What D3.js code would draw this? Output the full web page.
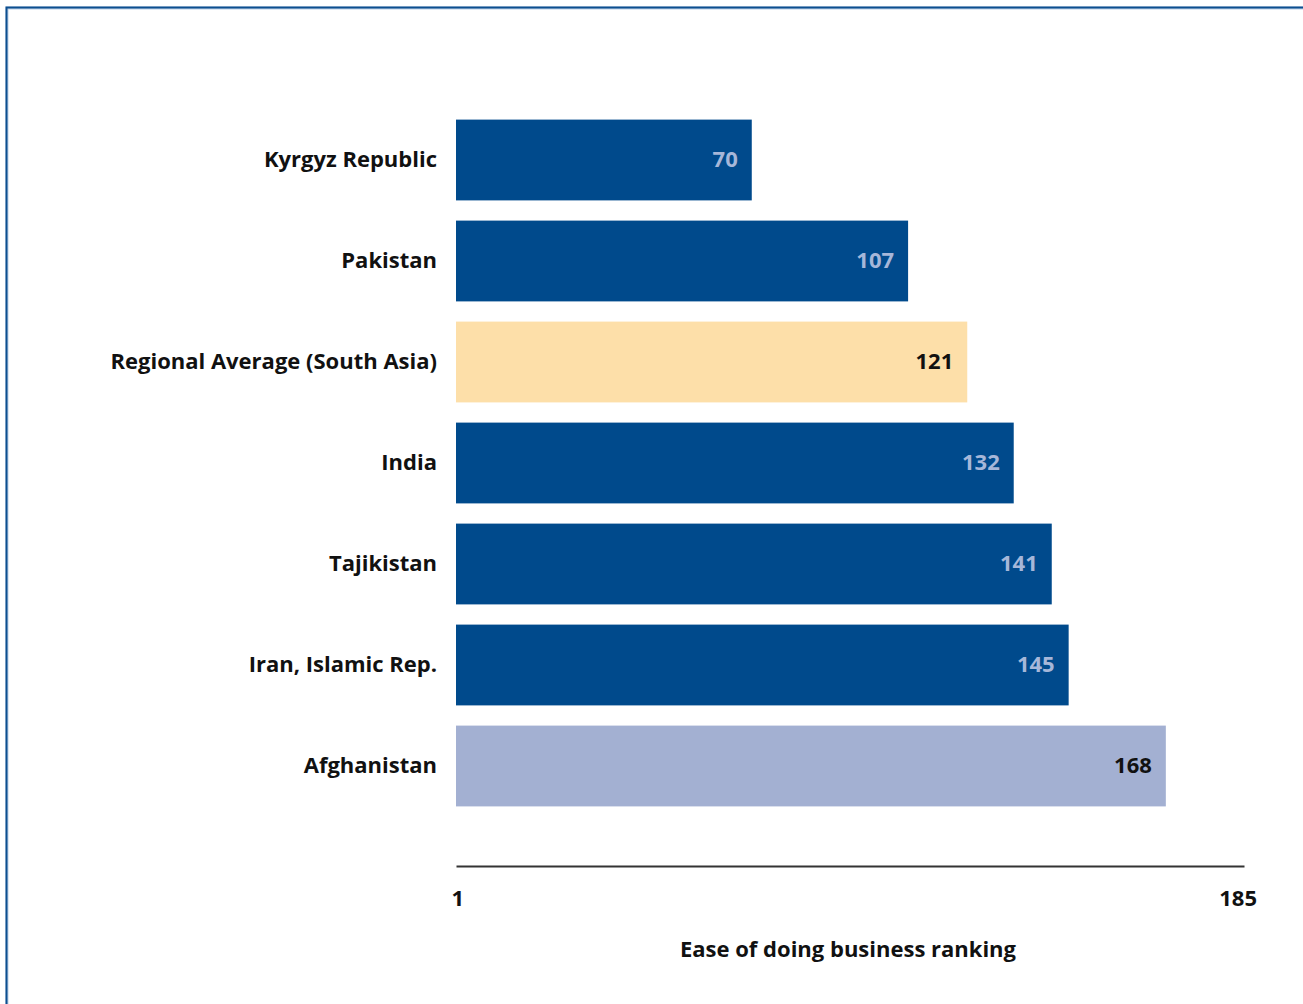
<!DOCTYPE html>
<html>
<head>
<meta charset="utf-8">
<script src="https://cdn.jsdelivr.net/npm/d3@7"></script>
<style>
  html, body { margin: 0; padding: 0; background: #fff; }
  svg { display: block; }
  text { font-family: "Open Sans", "DejaVu Sans", sans-serif; }
</style>
</head>
<body>
<svg id="chart" width="1303" height="1004"></svg>
<script>
// Ease of doing business rankings
const countries = ["Kyrgyz Republic", "Pakistan", "Regional Average (South Asia)", "India", "Tajikistan", "Iran, Islamic Rep.", "Afghanistan"];
const ranks = [70, 107, 121, 132, 141, 145, 168];
const kinds = ["country", "country", "average", "country", "country", "country", "focus"];
const axisTicks = [1, 185];
const axisTitle = "Ease of doing business ranking";

const fillByKind = { country: "#004a8c", average: "#fddfa9", focus: "#a3b0d2" };
const textByKind = { country: "#a6b7d9", average: "#111111", focus: "#111111" };

const svg = d3.select("#chart");

// frame
svg.append("rect")
  .attr("x", 7).attr("y", 8)
  .attr("width", 1400).attr("height", 1100)
  .attr("fill", "none").attr("stroke", "#bcd0e6").attr("stroke-width", 3);
svg.append("rect")
  .attr("x", 6.5).attr("y", 7.5)
  .attr("width", 1400).attr("height", 1100)
  .attr("fill", "none").attr("stroke", "#0d4f8f").attr("stroke-width", 2);

const x = d3.scaleLinear().domain([0, 186.5]).range([456, 1244]);
const y = d3.scaleBand().domain(countries).range([109.5, 816.5])
  .paddingInner(0.2).paddingOuter(0.1);

const rows = countries.map((c, i) => ({ name: c, value: ranks[i], kind: kinds[i] }));

svg.append("g").selectAll("rect").data(rows).join("rect")
  .attr("x", x(0))
  .attr("y", d => y(d.name))
  .attr("width", d => x(d.value) - x(0))
  .attr("height", y.bandwidth())
  .attr("fill", d => fillByKind[d.kind]);

// value labels inside bar ends
svg.append("g").selectAll("text").data(rows).join("text")
  .attr("x", d => x(d.value) - 14)
  .attr("y", d => y(d.name) + y.bandwidth() / 2)
  .attr("dy", "0.33em")
  .attr("text-anchor", "end")
  .attr("font-size", 22)
  .attr("font-weight", 700)
  .attr("fill", d => textByKind[d.kind])
  .text(d => d.value);

// category labels
svg.append("g").selectAll("text").data(rows).join("text")
  .attr("x", 437)
  .attr("y", d => y(d.name) + y.bandwidth() / 2)
  .attr("dy", "0.33em")
  .attr("text-anchor", "end")
  .attr("font-size", 22)
  .attr("font-weight", 700)
  .attr("fill", "#111")
  .text(d => d.name);

// axis
const axis = d3.axisBottom(x).tickValues(axisTicks).tickSize(0).tickPadding(24);
const gAxis = svg.append("g").attr("transform", "translate(0,866)").call(axis);
gAxis.select(".domain").attr("stroke", "#333").attr("stroke-width", 2);
gAxis.selectAll("text")
  .attr("font-size", 22).attr("font-weight", 700).attr("fill", "#111")
  .attr("dx", d => d === 1 ? -3 : 0)
  .style("font-family", "'Open Sans', sans-serif");

svg.append("text")
  .attr("x", 848).attr("y", 950)
  .attr("dy", "0.33em")
  .attr("text-anchor", "middle")
  .attr("font-size", 22).attr("font-weight", 700).attr("fill", "#111")
  .text(axisTitle);
</script>
</body>
</html>
